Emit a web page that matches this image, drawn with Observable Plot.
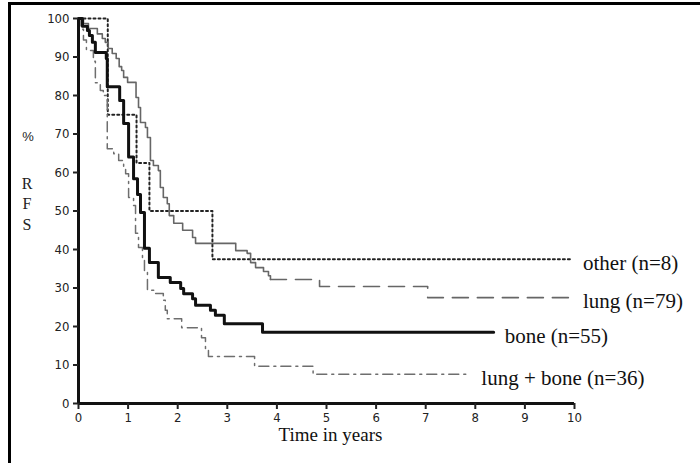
<!DOCTYPE html>
<html>
<head>
<meta charset="utf-8">
<script src="https://cdn.jsdelivr.net/npm/d3@7"></script>
<script src="https://cdn.jsdelivr.net/npm/@observablehq/plot@0.6"></script>
<style>
  html, body { margin: 0; padding: 0; background: #fff; }
  #wrap { position: relative; width: 700px; height: 463px; overflow: hidden; }
  #frame { position: absolute; left: 8px; top: 2px; width: 720px; height: 480px;
           border-left: 3px solid #000; border-top: 3px solid #000; pointer-events: none; }
  .ylab { position: absolute; font-family: "Liberation Serif", "Times New Roman", serif; color: #222;
          font-size: 16px; line-height: 1; transform: translate(-50%, -50%); }
</style>
</head>
<body>
<div id="wrap">
  <div id="chart"></div>
  <div id="frame"></div>
  <span class="ylab" style="left:28px; top:136px; font-family:'Liberation Sans', sans-serif; font-size:13px;">%</span>
  <span class="ylab" style="left:27px; top:184px;">R</span>
  <span class="ylab" style="left:27px; top:204px;">F</span>
  <span class="ylab" style="left:27px; top:225px;">S</span>
</div>
<script>
// ---- data ----
const xTicks = [0, 1, 2, 3, 4, 5, 6, 7, 8, 9, 10];
const yTicks = [0, 10, 20, 30, 40, 50, 60, 70, 80, 90, 100];
const seriesNames = ["other (n=8)", "lung (n=79)", "bone (n=55)", "lung + bone (n=36)"];

const otherT = [0, 0.59, 1.17, 1.43, 2.70, 9.95];
const otherS = [100, 75, 62.5, 50, 37.5, 37.5];

const lungT = [0, 0.1, 0.2, 0.38, 0.48, 0.54, 0.6, 0.68, 0.76, 0.82, 0.87, 0.91, 0.99, 1.16, 1.21, 1.25, 1.35, 1.39, 1.45, 1.51, 1.61, 1.65, 1.71, 1.79, 1.83, 1.92, 2.1, 2.3, 2.36, 3.17, 3.4, 3.47, 3.57, 3.73, 3.83, 3.87, 4.86, 7.04, 9.95];
const lungS = [100, 98.7, 97.4, 96, 94.8, 93.8, 92.2, 90.9, 89.6, 87.5, 86.5, 84.7, 83.4, 79.5, 76.9, 73, 71.7, 69.1, 63.1, 61.8, 60.5, 56.1, 53.5, 51.9, 48.8, 46.8, 45, 43.1, 41.6, 39.7, 39, 36.6, 35.3, 34.3, 33.2, 32.2, 30.4, 27.5, 27.5];

const boneT = [0, 0.08, 0.18, 0.22, 0.28, 0.34, 0.56, 0.58, 0.83, 0.91, 1.01, 1.11, 1.19, 1.25, 1.33, 1.43, 1.61, 1.85, 2.06, 2.12, 2.3, 2.36, 2.66, 2.76, 2.94, 3.71, 8.37];
const boneS = [100, 98, 96.9, 95.6, 93.8, 91.2, 89.6, 82.3, 78.7, 72.7, 64, 58.4, 54.3, 49.6, 40.3, 36.6, 32.7, 31.4, 29.9, 28.5, 27.2, 25.5, 24.2, 22.9, 20.7, 18.5, 18.5];

const lbT = [0, 0.05, 0.1, 0.16, 0.3, 0.34, 0.44, 0.5, 0.58, 0.71, 0.81, 0.91, 0.95, 1.01, 1.11, 1.15, 1.21, 1.29, 1.33, 1.39, 1.55, 1.71, 1.75, 1.79, 2.08, 2.48, 2.56, 2.62, 3.55, 4.73, 7.9];
const lbS = [100, 97.2, 94.4, 91.7, 88.9, 83.3, 81.3, 80, 66.2, 64.9, 63.1, 61.3, 59.7, 53.5, 51.4, 44.2, 40.5, 37.5, 34.5, 29.4, 28.6, 26.8, 24.2, 22, 19.7, 17.1, 14.3, 12.2, 9.7, 7.6, 7.6];

// ---- build rows ----
const rows = (name, t, s) => t.map((x, i) => ({series: name, t: x, s: s[i]}));
const other = rows(seriesNames[0], otherT, otherS);
const lung = rows(seriesNames[1], lungT, lungS);
const bone = rows(seriesNames[2], boneT, boneS);
const lb = rows(seriesNames[3], lbT, lbS);
const lungSplit = 3.87;
const ends = [other, lung, bone, lb].map(r => r[r.length - 1]);

const tickFont = "'Liberation Sans Narrow', 'DejaVu Sans Condensed', 'Arial Narrow', sans-serif";
const serif = "'Liberation Serif', 'Times New Roman', serif";

const chart = Plot.plot({
  width: 700,
  height: 463,
  marginLeft: 78,
  marginRight: 126,
  marginTop: 18,
  marginBottom: 60,
  x: {domain: [0, 10]},
  y: {domain: [0, 100]},
  style: {background: "transparent", color: "#222"},
  marks: [
    Plot.line(other, {x: "t", y: "s", curve: "step-after", stroke: "#222", strokeWidth: 2, strokeDasharray: "2,3"}),
    Plot.line(lung.filter(d => d.t <= lungSplit), {x: "t", y: "s", curve: "step-after", stroke: "#666", strokeWidth: 1.6}),
    Plot.line(lung.filter(d => d.t >= lungSplit), {x: "t", y: "s", curve: "step-after", stroke: "#666", strokeWidth: 1.6, strokeDasharray: "16,9"}),
    Plot.line(lb, {x: "t", y: "s", curve: "step-after", stroke: "#6e6e6e", strokeWidth: 1.5, strokeDasharray: "10,5,2,5"}),
    Plot.line(bone, {x: "t", y: "s", curve: "step-after", stroke: "#111", strokeWidth: 3}),
    Plot.ruleY([0], {stroke: "#111", strokeWidth: 3}),
    Plot.ruleX([0], {stroke: "#111", strokeWidth: 3}),
    Plot.axisY({ticks: yTicks, tickSize: 5, tickPadding: 4, strokeWidth: 2, label: null,
                fontSize: 13, fontFamily: tickFont}),
    Plot.axisX({ticks: xTicks, tickSize: 6, tickPadding: 3, strokeWidth: 2, label: null,
                fontSize: 13, fontFamily: tickFont}),
    Plot.text(ends, {x: "t", y: "s", text: "series", textAnchor: "start", dx: 11, dy: 4,
                     fontFamily: serif, fontSize: 21, fill: "#111"}),
    Plot.text(["Time in years"], {frameAnchor: "bottom", dy: 37, dx: 4,
                     fontFamily: serif, fontSize: 19, fill: "#111"})
  ]
});
document.getElementById("chart").appendChild(chart);
</script>
</body>
</html>
